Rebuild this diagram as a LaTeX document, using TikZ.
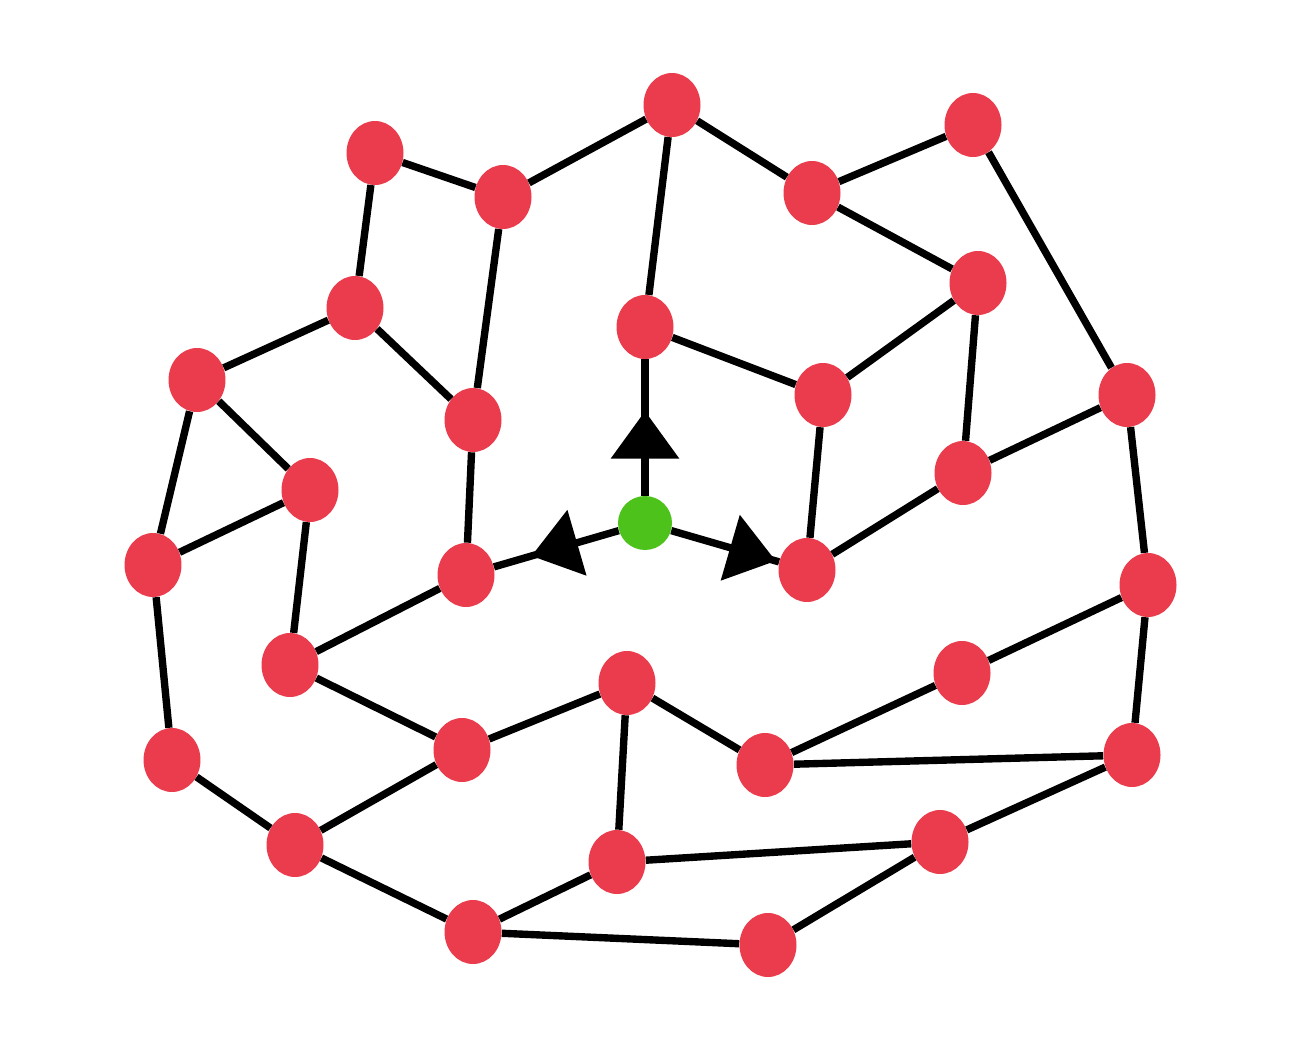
\documentclass[tikz,border=0pt]{standalone}
\usetikzlibrary{shapes.geometric,arrows.meta,decorations.markings}
\definecolor{nodered}{HTML}{EA3C4C}
\definecolor{nodegreen}{HTML}{4DC21A}
\begin{document}
\begin{tikzpicture}[x=0.02cm,y=-0.02cm,
  rn/.style={ellipse,fill=nodered,draw=none,minimum width=1.14cm,minimum height=1.28cm,inner sep=0pt},
  gn/.style={circle,fill=nodegreen,draw=none,minimum size=1.08cm,inner sep=0pt},
  edge/.style={line width=4.2pt,black},
  midarrow/.style={postaction={decorate,decoration={markings,mark=at position #1 with {\arrow{Triangle[length=27pt,width=38pt]}}}}}]
\useasboundingbox (0,0) rectangle (1300,1050);
% nodes
\node[rn] (A) at (375,153) {};
\node[rn] (B) at (503,197) {};
\node[rn] (C) at (672,105) {};
\node[rn] (D) at (812,193) {};
\node[rn] (E) at (973,125) {};
\node[rn] (F) at (978,283) {};
\node[rn] (G) at (645,327) {};
\node[rn] (H) at (355,308) {};
\node[rn] (I) at (197,380) {};
\node[rn] (J) at (473,420) {};
\node[rn] (K) at (823,395) {};
\node[rn] (L) at (1127,395) {};
\node[rn] (M) at (310,490) {};
\node[rn] (N) at (963,473) {};
\node[rn] (O) at (153,565) {};
\node[rn] (P) at (466,575) {};
\node[rn] (Q) at (807,570) {};
\node[rn] (R) at (1148,585) {};
\node[rn] (S) at (290,665) {};
\node[rn] (T) at (627,683) {};
\node[rn] (U) at (962,673) {};
\node[rn] (V) at (172,760) {};
\node[rn] (W) at (462,750) {};
\node[rn] (X) at (765,765) {};
\node[rn] (Y) at (1132,755) {};
\node[rn] (Z) at (295,845) {};
\node[rn] (AA) at (617,862) {};
\node[rn] (AB) at (940,842) {};
\node[rn] (AC) at (473,932) {};
\node[rn] (AD) at (768,945) {};
\node[gn] (c) at (645,523) {};
% edges
\foreach \a/\b in {A/B,B/C,C/D,D/E,C/G,D/F,E/L,A/H,B/J,H/I,H/J,I/M,I/O,M/O,G/K,F/K,F/N,K/Q,N/L,N/Q,L/R,J/P,M/S,S/P,O/V,V/Z,S/W,Z/W,W/T,T/X,T/AA,X/U,U/R,R/Y,X/Y,Z/AC,AC/AA,AC/AD,AA/AB,AD/AB,AB/Y}
  \draw[edge] (\a) -- (\b);
\draw[edge,midarrow=0.62] (c) -- (G);
\draw[edge,midarrow=0.7] (c) -- (P);
\draw[edge,midarrow=0.97] (c) -- (Q);
\end{tikzpicture}
\end{document}
